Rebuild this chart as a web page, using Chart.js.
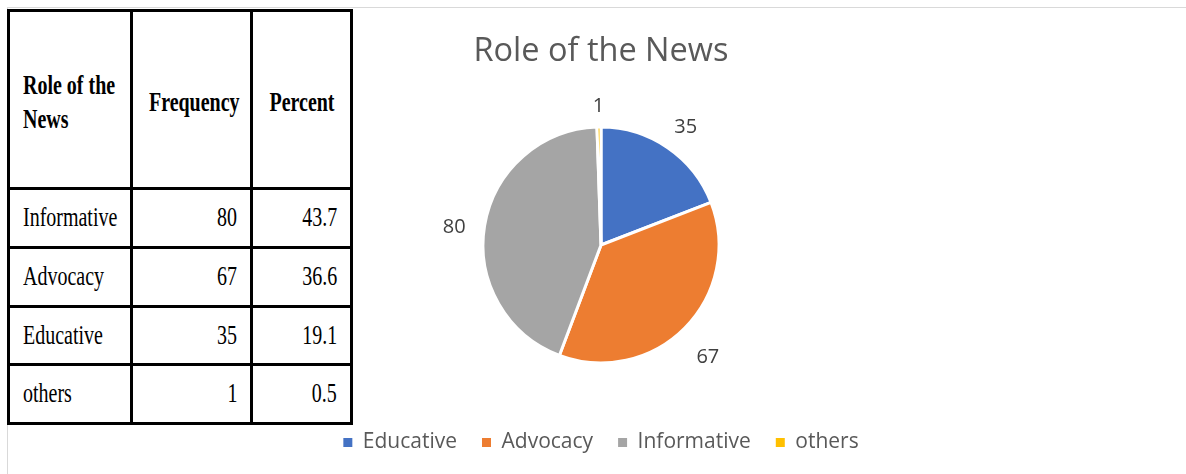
<!DOCTYPE html>
<html>
<head>
<meta charset="utf-8">
<script src="https://cdn.jsdelivr.net/npm/chart.js@4/dist/chart.umd.min.js"></script>
<style>
  html, body { margin: 0; padding: 0; background: #fff; }
  body { width: 1186px; height: 474px; position: relative; overflow: hidden; }
  #frame {
    position: absolute; left: 7px; top: 7px; width: 1190px; height: 480px;
    border-left: 1px solid #d9d9d9; border-top: 1px solid #d9d9d9;
  }
  #chartBox { position: absolute; left: 8px; top: 8px; width: 1178px; height: 466px; }
  #tbl {
    position: absolute; left: 7px; top: 9px; width: 343px;
    border-collapse: collapse; table-layout: fixed;
    font-family: "Liberation Serif", "Times New Roman", serif;
    font-size: 27px; color: #000; background: #fff;
  }
  #tbl td, #tbl th { border: 3px solid #000; padding: 0 13px; white-space: nowrap; overflow: visible; }
  #tbl th { height: 175px; font-weight: bold; text-align: center; padding: 0; }
  #tbl th.first { text-align: left; padding-left: 13px; }
  #tbl td { height: 55.8px; }
  #tbl td.num { text-align: right; }
  .sq { display: inline-block; transform: scaleX(0.74); transform-origin: left center; line-height: 1.25; }
  th .sq { position: relative; top: 3px; transform-origin: center center; }
  th.first .sq { transform-origin: left center; }
  .num .sq { transform-origin: right center; }
</style>
</head>
<body>
<div id="frame"></div>
<div id="chartBox"><canvas id="pie"></canvas></div>
<table id="tbl"></table>
<script>
// table data (as printed in the left table)
const tableHeaders = ['Role of the News', 'Frequency', 'Percent'];
const tableRoles = ['Informative', 'Advocacy', 'Educative', 'others'];
const tableFreq = ['80', '67', '35', '1'];
const tablePct = ['43.7', '36.6', '19.1', '0.5'];

// pie data
const categories = ['Educative', 'Advocacy', 'Informative', 'others'];
const values = [35, 67, 80, 1];
const sliceColors = ['#4472C4', '#ED7D31', '#A5A5A5', '#FFC000'];

// build the table
const tbl = document.getElementById('tbl');
let html = '<colgroup><col style="width:123px"><col style="width:120px"><col style="width:100px"></colgroup><tr>';
html += '<th class="first"><span class="sq">Role of the<br>News</span></th>';
html += '<th><span class="sq">' + tableHeaders[1] + '</span></th>';
html += '<th><span class="sq">' + tableHeaders[2] + '</span></th>';
html += '</tr>';
tableRoles.forEach((r, i) => {
  html += '<tr><td><span class="sq">' + r + '</span></td>' +
    '<td class="num"><span class="sq">' + tableFreq[i] + '</span></td>' +
    '<td class="num"><span class="sq">' + tablePct[i] + '</span></td></tr>';
});
tbl.innerHTML = html;

// value labels drawn outside each slice, box edge kept a fixed gap from the arc
const outsideLabels = {
  id: 'outsideLabels',
  afterDatasetsDraw(chart) {
    const ctx = chart.ctx;
    const meta = chart.getDatasetMeta(0);
    ctx.save();
    ctx.font = '20px "Open Sans", sans-serif';
    ctx.fillStyle = '#404040';
    ctx.textAlign = 'center';
    ctx.textBaseline = 'middle';
    meta.data.forEach((arc, i) => {
      const txt = String(values[i]);
      const hw = ctx.measureText(txt).width / 2;
      const hh = 9;
      const mid = (arc.startAngle + arc.endAngle) / 2;
      const c = Math.cos(mid), s = Math.sin(mid);
      const r = arc.outerRadius + 18 + Math.abs(c) * hw + Math.abs(s) * hh;
      ctx.fillText(txt, arc.x + c * r, arc.y + s * r + 6);
    });
    ctx.restore();
  }
};

new Chart(document.getElementById('pie'), {
  type: 'pie',
  data: {
    labels: categories,
    datasets: [{
      data: values,
      backgroundColor: sliceColors,
      borderColor: '#fff',
      borderWidth: 3
    }]
  },
  options: {
    responsive: true,
    maintainAspectRatio: false,
    animation: false,
    radius: 118,
    layout: { padding: { top: 0, bottom: 11, left: 8, right: 0 } },
    plugins: {
      title: {
        display: true,
        text: 'Role of the News',
        color: '#595959',
        font: { family: '"Open Sans", sans-serif', size: 32.5, weight: 'normal' },
        padding: { top: 24, bottom: 12 }
      },
      legend: {
        position: 'bottom',
        labels: {
          color: '#595959',
          font: { family: '"Open Sans", sans-serif', size: 21 },
          boxWidth: 9,
          boxHeight: 9,
          padding: 25,
          generateLabels(chart) {
            return Chart.overrides.pie.plugins.legend.labels.generateLabels(chart)
              .map(item => ({ ...item, lineWidth: 0, strokeStyle: 'transparent' }));
          }
        }
      },
      tooltip: { enabled: false }
    }
  },
  plugins: [outsideLabels]
});
</script>
</body>
</html>
